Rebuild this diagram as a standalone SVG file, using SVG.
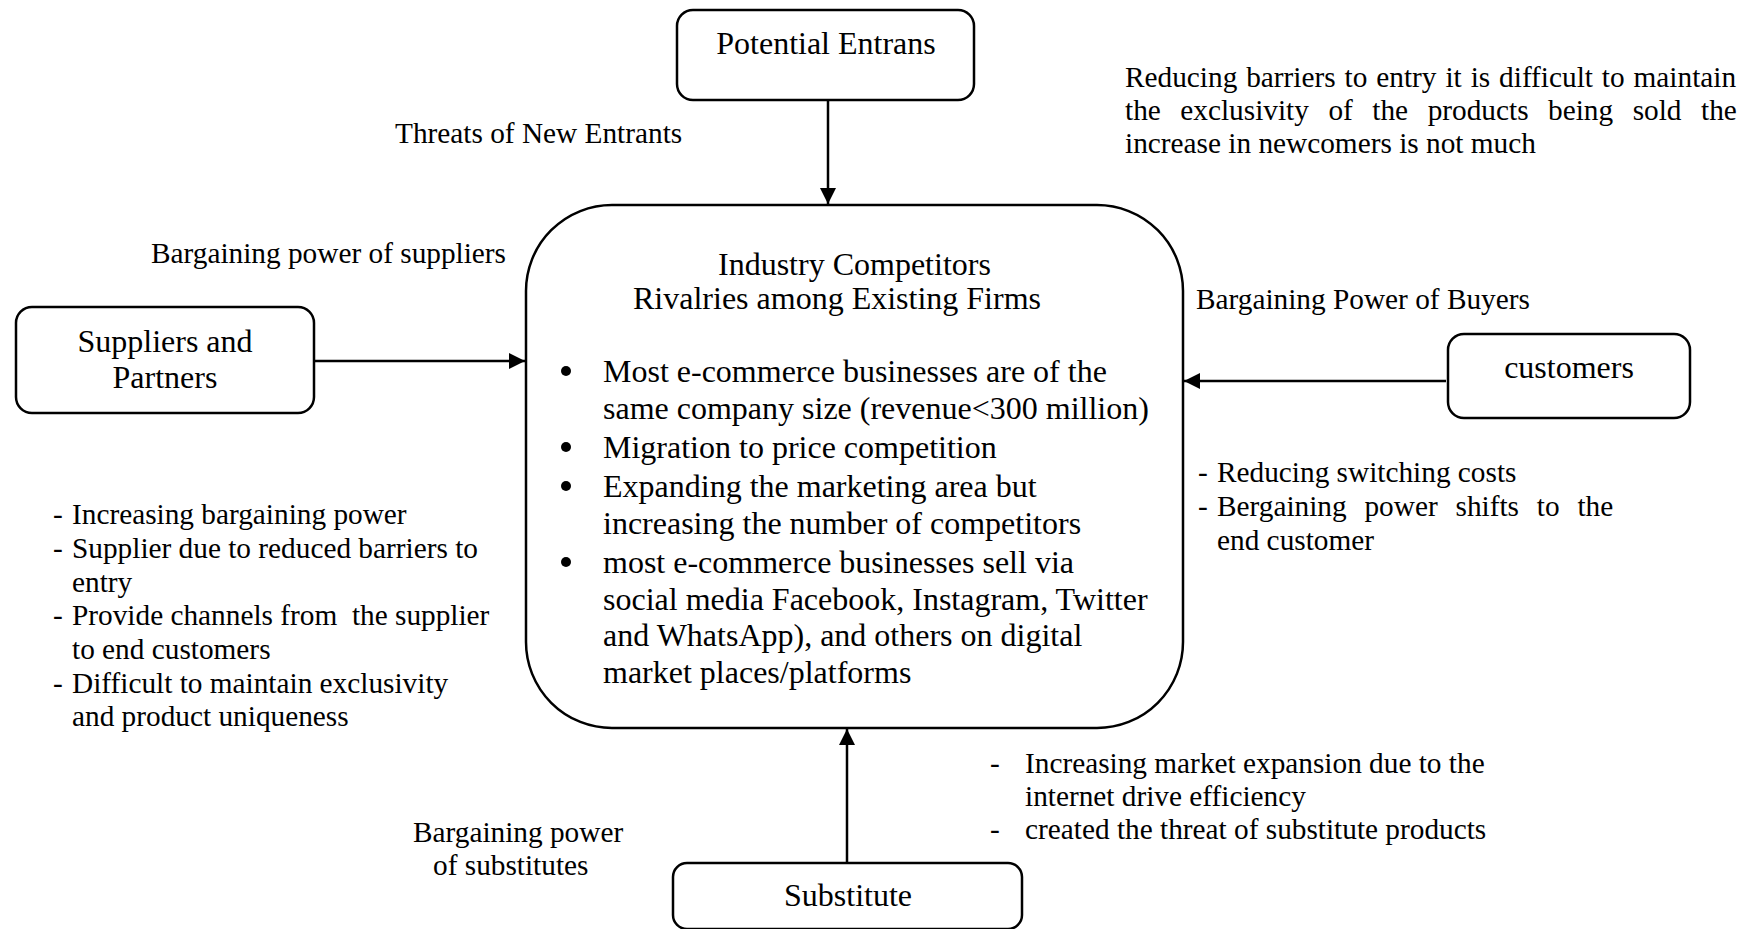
<svg xmlns="http://www.w3.org/2000/svg" width="1749" height="929" viewBox="0 0 1749 929">
<style>
text { font-family: "Liberation Serif", "Times New Roman", serif; fill: #000; }
.n { font-size: 32px; }
.s { font-size: 29.3px; }
.box { fill: #fff; stroke: #000; stroke-width: 2.5; }
.conn { stroke: #000; stroke-width: 2.5; fill: none; marker-end: url(#arrow); }
</style>
<defs>
<marker id="arrow" markerUnits="userSpaceOnUse" markerWidth="16" markerHeight="16" viewBox="0 0 16 16" refX="16" refY="8" orient="auto">
<path d="M0,0 L16,8 L0,16 Z" fill="#000"/>
</marker>
</defs>
<rect width="1749" height="929" fill="#fff"/>

<g id="connectors">
<line class="conn" x1="828" y1="100" x2="828" y2="204"/>
<line class="conn" x1="314" y1="361" x2="525" y2="361"/>
<line class="conn" x1="1446" y1="381" x2="1184" y2="381"/>
<line class="conn" x1="847" y1="863" x2="847" y2="729"/>
</g>

<g id="potential-entrans">
<rect class="box" x="677" y="10" width="297" height="90" rx="16"/>
<text class="n" x="826" y="54" text-anchor="middle">Potential Entrans</text>
</g>

<g id="industry-competitors">
<rect class="box" x="526" y="205" width="657" height="523" rx="86"/>
<text class="n" x="718" y="275">Industry Competitors</text>
<text class="n" x="633" y="309">Rivalries among Existing Firms</text>
<g fill="#000">
<circle cx="566" cy="371" r="5"/>
<circle cx="566" cy="447" r="5"/>
<circle cx="566" cy="486" r="5"/>
<circle cx="566" cy="562" r="5"/>
</g>
<text class="n" x="603" y="382">Most e-commerce businesses are of the</text>
<text class="n" x="603" y="418.5">same company size (revenue&lt;300 million)</text>
<text class="n" x="603" y="458">Migration to price competition</text>
<text class="n" x="603" y="497">Expanding the marketing area but</text>
<text class="n" x="603" y="533.5">increasing the number of competitors</text>
<text class="n" x="603" y="573">most e-commerce businesses sell via</text>
<text class="n" x="603" y="609.5">social media Facebook, Instagram, Twitter</text>
<text class="n" x="603" y="646">and WhatsApp), and others on digital</text>
<text class="n" x="603" y="682.5">market places/platforms</text>
</g>

<g id="suppliers">
<rect class="box" x="16" y="307" width="298" height="106" rx="16"/>
<text class="n" x="165" y="352" text-anchor="middle">Suppliers and</text>
<text class="n" x="165" y="388" text-anchor="middle">Partners</text>
</g>

<g id="customers">
<rect class="box" x="1448" y="334" width="242" height="84" rx="16"/>
<text class="n" x="1569" y="378" text-anchor="middle">customers</text>
</g>

<g id="substitute">
<rect class="box" x="673" y="863" width="349" height="66" rx="14"/>
<text class="n" x="848" y="906" text-anchor="middle">Substitute</text>
</g>

<g id="labels">
<text class="s" x="395" y="143">Threats of New Entrants</text>
<text class="s" x="1125" y="87" word-spacing="1.6">Reducing barriers to entry it is difficult to maintain</text>
<text class="s" x="1125" y="120" word-spacing="12.2">the exclusivity of the products being sold the</text>
<text class="s" x="1125" y="153">increase in newcomers is not much</text>

<text class="s" x="151" y="263">Bargaining power of suppliers</text>
<text class="s" x="53" y="524">-</text><text class="s" x="72" y="524">Increasing bargaining power</text>
<text class="s" x="53" y="558">-</text><text class="s" x="72" y="558">Supplier due to reduced barriers to</text>
<text class="s" x="72" y="591.5">entry</text>
<text class="s" x="53" y="625">-</text><text class="s" x="72" y="625" xml:space="preserve">Provide channels from  the supplier</text>
<text class="s" x="72" y="659">to end customers</text>
<text class="s" x="53" y="692.5">-</text><text class="s" x="72" y="692.5">Difficult to maintain exclusivity</text>
<text class="s" x="72" y="726">and product uniqueness</text>

<text class="s" x="1196" y="309">Bargaining Power of Buyers</text>
<text class="s" x="1198" y="482">-</text><text class="s" x="1217" y="482">Reducing switching costs</text>
<text class="s" x="1198" y="516">-</text><text class="s" x="1217" y="516" word-spacing="10.5">Bergaining power shifts to the</text>
<text class="s" x="1217" y="550">end customer</text>

<text class="s" x="413" y="842">Bargaining power</text>
<text class="s" x="433" y="875">of substitutes</text>
<text class="s" x="990" y="773">-</text><text class="s" x="1025" y="773">Increasing market expansion due to the</text>
<text class="s" x="1025" y="806">internet drive efficiency</text>
<text class="s" x="990" y="839">-</text><text class="s" x="1025" y="839">created the threat of substitute products</text>
</g>
</svg>
